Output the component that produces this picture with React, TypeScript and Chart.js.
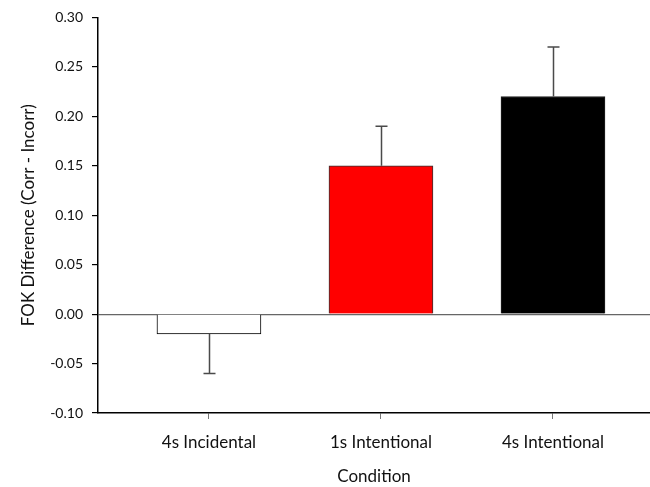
import React, { useEffect, useRef } from "react";
import { Chart, registerables } from "chart.js";

Chart.register(...registerables);

const categories = ["4s Incidental", "1s Intentional", "4s Intentional"];
const means = [-0.02, 0.15, 0.22];
const errors = [0.04, 0.04, 0.05];
const barColors = ["#ffffff", "#ff0000", "#000000"];
const yTicks = [-0.1, -0.05, 0, 0.05, 0.1, 0.15, 0.2, 0.25, 0.3];

const FONT = "Lato, 'Open Sans', sans-serif";

const errorBarPlugin = {
  id: "errorBars",
  afterDatasetsDraw(chart: any) {
    const ctx = chart.ctx;
    const meta = chart.getDatasetMeta(0);
    const yScale = chart.scales.y;
    ctx.save();
    ctx.strokeStyle = "#4a4a4a";
    ctx.lineWidth = 1.5;
    meta.data.forEach((el: any, i: number) => {
      const m = means[i];
      const end = m >= 0 ? m + errors[i] : m - errors[i];
      const y0 = yScale.getPixelForValue(m);
      const y1 = yScale.getPixelForValue(end);
      const x = Math.round(el.x) + 0.5;
      ctx.beginPath();
      ctx.moveTo(x, y0);
      ctx.lineTo(x, y1);
      ctx.moveTo(x - 6, y1);
      ctx.lineTo(x + 6, y1);
      ctx.stroke();
    });
    ctx.restore();
  },
};

export default function App() {
  const ref = useRef<HTMLCanvasElement | null>(null);
  useEffect(() => {
    if (!ref.current) return;
    const chart = new Chart(ref.current, {
      type: "bar",
      data: {
        datasets: [
          {
            data: means.map((v, i) => ({ x: i + 1, y: v })),
            backgroundColor: barColors,
            borderColor: ["#000000", "#333333", "#222222"],
            borderWidth: 1,
            barThickness: 104,
          },
        ],
      },
      options: {
        animation: false,
        responsive: false,
        maintainAspectRatio: false,
        layout: { padding: { top: 15, right: 0, left: 0, bottom: 0 } },
        plugins: { legend: { display: false }, tooltip: { enabled: false } },
        scales: {
          x: {
            type: "linear",
            offset: false,
            min: 0.355,
            max: 3.564,
            afterBuildTicks: (scale: any) => {
              scale.ticks = categories.map((_, i) => ({ value: i + 1 }));
            },
            afterFit: (scale: any) => {
              scale.height = 74;
              scale.paddingLeft = 0;
              scale.paddingRight = 0;
            },
            ticks: {
              callback: (v: any) => categories[Math.round(v) - 1] ?? "",
              font: { family: FONT, size: 17 },
              color: "#111",
              padding: 13,
              maxRotation: 0,
              autoSkip: false,
            },
            grid: {
              offset: false,
              drawOnChartArea: false,
              drawTicks: true,
              tickLength: 6,
              tickColor: "#777",
            },
            border: { color: "#000", width: 1.5 },
            title: {
              display: true,
              text: "Condition",
              font: { family: FONT, size: 17 },
              color: "#111",
              padding: { top: 0, bottom: 0 },
            },
          },
          y: {
            type: "linear",
            min: -0.1,
            max: 0.3,
            afterBuildTicks: (scale: any) => {
              scale.ticks = yTicks.map((v) => ({ value: v }));
            },
            afterFit: (scale: any) => {
              scale.width = 98;
            },
            ticks: {
              callback: (v: any) => Number(v).toFixed(2),
              font: { family: FONT, size: 14 },
              color: "#111",
              padding: 9,
            },
            grid: {
              drawOnChartArea: true,
              drawTicks: true,
              tickLength: 6,
              tickColor: "#000",
              color: (c: any) =>
                c.tick && Math.abs(c.tick.value) < 1e-9 ? "#666" : "rgba(0,0,0,0)",
              lineWidth: 1.2,
            },
            border: { color: "#000", width: 1.5 },
            title: {
              display: true,
              text: "FOK Difference (Corr - Incorr)",
              font: { family: FONT, size: 17 },
              color: "#111",
              padding: { top: 18, bottom: 0 },
            },
          },
        },
      },
      plugins: [errorBarPlugin],
    } as any);
    return () => chart.destroy();
  }, []);
  return (
    <div style={{ position: "fixed", left: 0, top: 0, width: 650, height: 487, background: "#fff" }}>
      <canvas ref={ref} width={650} height={487} style={{ width: 650, height: 487 }} />
    </div>
  );
}
